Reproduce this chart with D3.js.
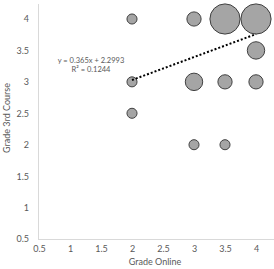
<!DOCTYPE html>
<html>

<head>
    <meta charset="UTF-8" />
    <title>Grade Online vs Grade 3rd Course</title>
    <script src="https://d3js.org/d3.v7.min.js"></script>
    <style>
        body {
            margin: 0;
            background: white;
        }

        text {
            font-family: Lato, "Open Sans", sans-serif;
            fill: #595959;
        }
    </style>
</head>

<body>
    <svg width="274" height="269" class="chart"></svg>

    <script>
        // bubbles: x, y and bubble size
        var gradeOnline = [2, 2, 2, 3, 3, 3, 3.5, 3.5, 3.5, 4, 4, 4];
        var grade3rd = [4, 3, 2.5, 4, 3, 2, 4, 3, 2, 4, 3.5, 3];
        var bubbleSize = [1, 1, 1, 2, 3, 1, 9, 2, 1, 9, 3, 2];
        var xTicks = [0.5, 1, 1.5, 2, 2.5, 3, 3.5, 4];
        var yTicks = [0.5, 1, 1.5, 2, 2.5, 3, 3.5, 4];
        // linear trendline as printed on the chart
        var slope = 0.365, intercept = 2.2993, rSquared = 0.1244;

        var svg = d3.select("svg");
        var plotLeft = 39, plotRight = 256, plotTop = 19, plotBottom = 239;
        var xScale = d3.scaleLinear().domain([0.5, 4]).range([plotLeft, plotRight]);
        var yScale = d3.scaleLinear().domain([0.5, 4]).range([plotBottom, plotTop]);
        var rScale = d3.scaleSqrt().domain([0, 9]).range([0, 15.1]);

        var data = gradeOnline.map(function (x, i) {
            return { x: x, y: grade3rd[i], size: bubbleSize[i] };
        });
        // Excel puts the biggest bubbles at the back
        data.sort(function (a, b) { return b.size - a.size; });

        // axis lines run a bit past the last tick
        svg.append("line")
            .attr("x1", plotLeft - 0.5).attr("x2", plotLeft - 0.5)
            .attr("y1", 4).attr("y2", plotBottom)
            .attr("stroke", "#d9d9d9").attr("stroke-width", 1);
        svg.append("line")
            .attr("x1", plotLeft - 1).attr("x2", 274)
            .attr("y1", plotBottom + 0.5).attr("y2", plotBottom + 0.5)
            .attr("stroke", "#d9d9d9").attr("stroke-width", 1);

        // y axis labels
        var yAxis = svg.append("g").attr("transform", "translate(" + (plotLeft - 10) + ",0)")
            .call(d3.axisLeft(yScale).tickValues(yTicks).tickSize(0).tickPadding(0).tickFormat(d3.format("")));
        yAxis.select(".domain").remove();
        yAxis.selectAll("text").attr("font-size", "9px").attr("fill", "#595959")
            .style("font-family", "Lato, sans-serif");

        // x axis labels
        var xAxis = svg.append("g").attr("transform", "translate(0," + (plotBottom + 7) + ")")
            .call(d3.axisBottom(xScale).tickValues(xTicks).tickSize(0).tickPadding(0).tickFormat(d3.format("")));
        xAxis.select(".domain").remove();
        xAxis.selectAll("text").attr("font-size", "9px").attr("fill", "#595959")
            .style("font-family", "Lato, sans-serif");

        // bubbles
        svg.append("g").selectAll("circle")
            .data(data)
            .enter().append("circle")
            .attr("cx", function (d) { return xScale(d.x); })
            .attr("cy", function (d) { return yScale(d.y); })
            .attr("r", function (d) { return rScale(d.size); })
            .attr("fill", "#a5a5a5")
            .attr("stroke", "#404040")
            .attr("stroke-width", 1);

        // trendline from min x to max x
        var xMin = d3.min(gradeOnline), xMax = d3.max(gradeOnline);
        svg.append("line")
            .attr("x1", xScale(xMin)).attr("y1", yScale(slope * xMin + intercept))
            .attr("x2", xScale(xMax)).attr("y2", yScale(slope * xMax + intercept))
            .attr("stroke", "black")
            .attr("stroke-width", 2)
            .attr("stroke-dasharray", "2,2");

        // equation label
        svg.append("text")
            .attr("x", 91).attr("y", 63)
            .attr("text-anchor", "middle")
            .attr("font-size", "7.5px")
            .text("y = " + slope + "x + " + intercept);
        svg.append("text")
            .attr("x", 91).attr("y", 72)
            .attr("text-anchor", "middle")
            .attr("font-size", "7.5px")
            .text("R² = " + rSquared);

        // axis titles
        svg.append("text")
            .attr("x", 155).attr("y", 265)
            .attr("text-anchor", "middle")
            .attr("font-size", "9px")
            .text("Grade Online");
        svg.append("text")
            .attr("transform", "translate(10,118) rotate(-90)")
            .attr("text-anchor", "middle")
            .attr("font-size", "9px")
            .text("Grade 3rd Course");
    </script>
</body>

</html>
